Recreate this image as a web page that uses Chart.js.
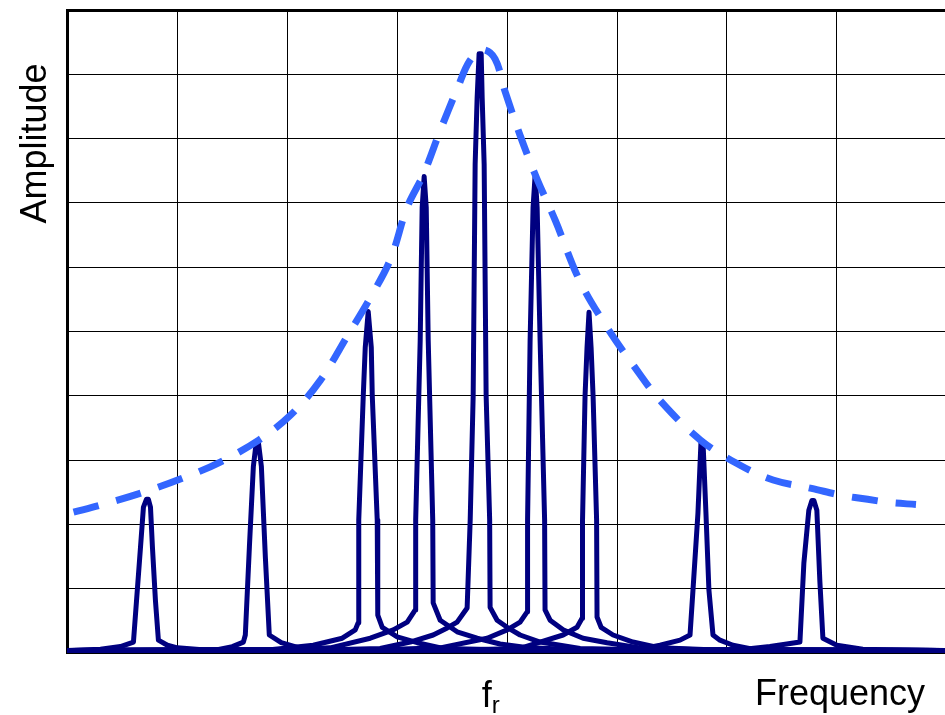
<!DOCTYPE html>
<html>
<head>
<meta charset="utf-8">
<script src="https://cdn.jsdelivr.net/npm/chart.js@4.4.1/dist/chart.umd.min.js"></script>
<style>
  html, body { margin: 0; padding: 0; background: #fff; }
  #wrap { width: 945px; height: 715px; position: relative; }
</style>
</head>
<body>
<div id="wrap"><canvas id="myChart"></canvas></div>
<script>
// Data (x in grid divisions, y in grid divisions)
const xMax = 7.984;
const yMax = 10;
const frValue = 3.77;

// dashed envelope
const envelopeX = [0.055, 0.30, 0.69, 1.05, 1.39, 1.74, 2.03, 2.30, 2.55, 2.75, 2.94, 3.09, 3.24, 3.39, 3.55, 3.66, 3.78,
    3.89, 3.98, 4.12, 4.27, 4.44, 4.66, 4.91, 5.15, 5.39, 5.76, 6.12, 6.42, 6.77, 7.05, 7.28, 7.48, 7.72];
const envelopeY = [2.19, 2.30, 2.50, 2.72, 2.97, 3.31, 3.70, 4.24, 4.94, 5.51, 6.13, 6.93, 7.45, 8.12, 8.79, 9.21, 9.38,
    9.24, 8.74, 8.04, 7.38, 6.72, 5.79, 5.06, 4.47, 3.93, 3.31, 2.92, 2.69, 2.56, 2.45, 2.39, 2.34, 2.31];

// resonance peaks, [x, y]
const peak1 = [[0, 0.04], [0.300, 0.06], [0.482, 0.10], [0.600, 0.17], [0.664, 1.64], [0.691, 2.27], [0.718, 2.39],
    [0.736, 2.39], [0.755, 2.27], [0.773, 1.64], [0.800, 0.82], [0.827, 0.20], [0.909, 0.12], [1.000, 0.08],
    [1.227, 0.05], [xMax, 0.04]];
const peak2 = [[0, 0.04], [1.364, 0.05], [1.500, 0.10], [1.600, 0.17], [1.618, 0.28], [1.655, 1.65], [1.691, 2.90],
    [1.718, 3.29], [1.736, 3.29], [1.764, 2.90], [1.800, 1.50], [1.836, 0.28], [1.945, 0.16], [2.109, 0.08],
    [2.364, 0.05], [xMax, 0.04]];
const peak3 = [[0, 0.04], [1.845, 0.05], [2.236, 0.12], [2.500, 0.23], [2.618, 0.36], [2.645, 0.47], [2.650, 2.07],
    [2.691, 4.00], [2.709, 4.75], [2.736, 5.31], [2.764, 4.75], [2.773, 4.00], [2.818, 2.07], [2.823, 0.59],
    [2.864, 0.40], [3.000, 0.25], [3.182, 0.16], [3.418, 0.07], [3.936, 0.05], [xMax, 0.04]];
const peak4 = [[0, 0.04], [2.027, 0.05], [2.391, 0.08], [2.755, 0.23], [2.964, 0.36], [3.091, 0.48], [3.164, 0.67],
    [3.168, 2.07], [3.209, 4.86], [3.227, 6.93], [3.245, 7.41], [3.264, 6.93], [3.282, 4.86], [3.323, 2.07],
    [3.327, 0.78], [3.391, 0.51], [3.545, 0.33], [3.727, 0.23], [3.936, 0.14], [4.209, 0.08], [4.664, 0.05], [xMax, 0.04]];
const peak5 = [[0, 0.04], [2.391, 0.05], [2.845, 0.07], [3.118, 0.17], [3.327, 0.28], [3.455, 0.39], [3.545, 0.48],
    [3.636, 0.70], [3.664, 2.07], [3.691, 4.00], [3.709, 7.60], [3.727, 8.63], [3.745, 9.32], [3.764, 9.32],
    [3.773, 8.63], [3.791, 7.60], [3.809, 4.00], [3.841, 2.07], [3.845, 0.71], [3.909, 0.51], [4.000, 0.40],
    [4.118, 0.28], [4.300, 0.17], [4.664, 0.07], [5.209, 0.05], [xMax, 0.04]];
const peak6 = [[0, 0.04], [2.845, 0.05], [3.391, 0.08], [3.818, 0.23], [4.000, 0.36], [4.118, 0.48], [4.182, 0.64],
    [4.186, 2.07], [4.209, 4.86], [4.236, 6.93], [4.255, 7.44], [4.273, 6.93], [4.300, 4.86], [4.341, 2.07],
    [4.345, 0.67], [4.391, 0.51], [4.509, 0.36], [4.691, 0.23], [4.909, 0.16], [5.209, 0.08], [5.755, 0.05], [xMax, 0.04]];
const peak7 = [[0, 0.04], [3.664, 0.05], [4.118, 0.07], [4.300, 0.17], [4.509, 0.28], [4.636, 0.40], [4.682, 0.54],
    [4.686, 2.07], [4.709, 4.00], [4.727, 4.75], [4.745, 5.30], [4.764, 4.75], [4.782, 4.00], [4.814, 2.07],
    [4.818, 0.56], [4.855, 0.40], [4.964, 0.28], [5.145, 0.17], [5.391, 0.08], [5.845, 0.05], [xMax, 0.04]];
const peak8 = [[0, 0.04], [4.845, 0.05], [5.209, 0.06], [5.391, 0.12], [5.573, 0.20], [5.664, 0.28], [5.691, 0.98],
    [5.736, 2.17], [5.764, 3.29], [5.782, 3.29], [5.809, 2.17], [5.836, 0.98], [5.873, 0.28], [5.936, 0.20],
    [6.055, 0.12], [6.236, 0.06], [6.573, 0.05], [xMax, 0.04]];
const peak9 = [[0, 0.04], [6.118, 0.05], [6.391, 0.10], [6.545, 0.14], [6.664, 0.17], [6.700, 1.40], [6.745, 2.22],
    [6.773, 2.37], [6.791, 2.37], [6.818, 2.22], [6.845, 1.13], [6.873, 0.23], [7.000, 0.12], [7.236, 0.06],
    [7.455, 0.05], [xMax, 0.04]];
const peaks = [peak1, peak2, peak3, peak4, peak5, peak6, peak7, peak8, peak9];

// Texts
const yTitle = 'Amplitude';
const xTitle = 'Frequency';
const frMain = 'f';
const frSub = 'r';

// Chart
const ctx = document.getElementById('myChart');

const labelsPlugin = {
    id: 'labelsPlugin',
    afterDraw: (chart) => {
        const { ctx } = chart;
        const xs = chart.scales.x;
        ctx.save();
        ctx.fillStyle = '#000';
        ctx.textBaseline = 'alphabetic';
        ctx.font = '36px "Liberation Sans", Arial, sans-serif';
        // y title, rotated
        ctx.save();
        ctx.translate(46, 143.5);
        ctx.rotate(-Math.PI / 2);
        ctx.textAlign = 'center';
        ctx.fillText(yTitle, 0, 0);
        ctx.restore();
        // x title
        ctx.textAlign = 'left';
        ctx.fillText(xTitle, 755, 705);
        // f_r
        const fx = xs.getPixelForValue(frValue);
        ctx.fillText(frMain, fx, 707);
        const fw = ctx.measureText(frMain).width;
        ctx.font = '24px "Liberation Sans", Arial, sans-serif';
        ctx.fillText(frSub, fx + fw, 713);
        ctx.restore();
    }
};

const datasets = [{
    label: 'envelope',
    data: envelopeX.map((x, i) => ({ x: x, y: envelopeY[i] })),
    borderColor: '#3366ff',
    borderWidth: 7,
    borderDash: [26, 18],
    borderCapStyle: 'butt',
    pointRadius: 0,
    tension: 0.35,
    fill: false
}];
peaks.forEach((pk, i) => {
    datasets.push({
        label: 'peak ' + (i + 1),
        data: pk.map((p) => ({ x: p[0], y: p[1] })),
        borderColor: '#000080',
        borderWidth: 5,
        borderJoinStyle: 'round',
        borderCapStyle: 'round',
        pointRadius: 0,
        tension: 0,
        fill: false
    });
});

const myChart = new Chart(ctx, {
    type: 'line',
    data: { datasets: datasets },
    options: {
        responsive: true,
        maintainAspectRatio: false,
        animation: false,
        layout: { padding: { left: 67.5, top: 10, right: 0, bottom: 62 } },
        plugins: {
            legend: { display: false },
            tooltip: { enabled: false }
        },
        scales: {
            x: {
                type: 'linear',
                min: 0,
                max: xMax,
                ticks: { display: false, stepSize: 1 },
                grid: { color: '#000', lineWidth: 1, drawTicks: false },
                border: { display: true, color: '#000', width: 2 }
            },
            y: {
                min: 0,
                max: yMax,
                ticks: { display: false, stepSize: 1 },
                grid: {
                    color: '#000',
                    drawTicks: false,
                    lineWidth: (c) => (c.tick && c.tick.value === yMax ? 3 : 1)
                },
                border: { display: true, color: '#000', width: 3 }
            }
        }
    },
    plugins: [labelsPlugin]
});
</script>
</body>
</html>
